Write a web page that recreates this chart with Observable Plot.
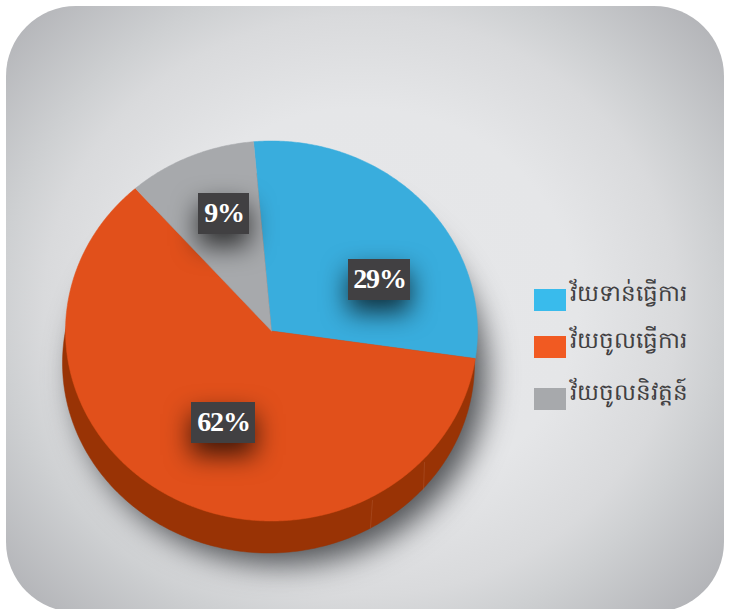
<!DOCTYPE html>
<html><head><meta charset="utf-8">
<script src="https://cdn.jsdelivr.net/npm/d3@7"></script>
<script src="https://cdn.jsdelivr.net/npm/@observablehq/plot@0.6"></script>
<style>
html,body{margin:0;padding:0;background:#fff;width:735px;height:609px;overflow:hidden}
#panel{position:absolute;left:6px;top:6px;width:718px;height:606px;border-radius:70px;
background:radial-gradient(ellipse 480px 440px at 355px 300px,#e6e7e9 0%,#e5e6e8 45%,#d9dadc 66%,#ced0d2 75%,#afb0b4 100%)}
#chart{position:absolute;left:0;top:0}
svg{background:transparent!important;display:block}
.pct text{letter-spacing:-1.2px}
</style></head><body>
<div id="panel"></div><div id="chart"></div>
<script>
const categories=["វ័យទាន់ធ្វើការ","វ័យចូលធ្វើការ","វ័យចូលនិវត្តន៍"];
const shares=[28.7,61.2,10.1];
const labels=["29%","62%","9%"];
const sliceColors=["#39addd","#e1501b","#a7a9ac"];
const legendColors=["#39bbec","#f15a22","#a7a9ac"];

const W=735,H=609,cx=271,cy=330.5,rx=206,ry=190;
const px=v=>(v-cx)/rx, py=v=>(cy-v)/ry;
const startDeg=-5;
const angle=d3.scaleLinear().domain([0,100]).range([startDeg,startDeg+360]);
const rad=d=>d*Math.PI/180;
let acc=0;
const slices=categories.flatMap((name,i)=>{
  const a=angle(acc),b=angle(acc+shares[i]);acc+=shares[i];
  const pts=[{name,color:sliceColors[i],u:0,v:0}];
  const n=Math.ceil((b-a)*2);
  for(let k=0;k<=n;k++){const t=rad(a+(b-a)*k/n);pts.push({name,color:sliceColors[i],u:Math.sin(t),v:Math.cos(t)});}
  pts.push({name,color:sliceColors[i],u:0,v:0});
  return pts;
});
const ring=(du,dv)=>d3.range(0,361).map(d=>({u:Math.sin(rad(d))+du,v:Math.cos(rad(d))+dv}));
const depth={u:-3/rx,v:-32/ry};
const sideRing=ring(depth.u,depth.v);
const shadowRing=ring(9/rx,-44/ry);
const seams=[[424,462,423,490],[372,500,370,527]].map(([a,b,c,d],i)=>[{i,u:px(a),v:py(b)},{i,u:px(c),v:py(d)}]).flat();
const labelBoxes=[[348,410,259,300],[191,255,402,443],[198,249,193,234]].map(([a,b,c,d],i)=>({
  label:labels[i],u1:px(a),u2:px(b),v1:py(c),v2:py(d),u:px((a+b)/2),v:py((c+d)/2-1)}));
const legendRows=categories.map((name,i)=>{const top=[289,336,388][i];return{
  name,color:legendColors[i],u1:px(534),u2:px(566),v1:py(top),v2:py(top+22),tu:px(569),tv:py(top+4)};});

const chart=Plot.plot({
  width:W,height:H,margin:0,
  x:{domain:[px(0),px(W)],range:[0,W],axis:null},
  y:{domain:[py(0),py(H)],range:[0,H],axis:null},
  style:{background:"transparent"},
  marks:[
    Plot.line(shadowRing,{x:"u",y:"v",fill:"#2c2e32",stroke:"none",fillOpacity:.8,imageFilter:"blur(15px)"}),
    Plot.line(sideRing,{x:"u",y:"v",fill:"#993305",stroke:"#993305",strokeWidth:.5}),
    Plot.line(seams,{x:"u",y:"v",z:"i",stroke:"#b5603a",strokeWidth:1,strokeOpacity:.4}),
    Plot.line(slices,{x:"u",y:"v",z:"name",fill:"color",stroke:"color",strokeWidth:.5,curve:"linear"}),
    Plot.rect(labelBoxes,{x1:"u1",x2:"u2",y1:"v1",y2:"v2",fill:"#414042",imageFilter:"drop-shadow(0 12px 13px rgba(0,0,0,.72))"}),
    Plot.text(labelBoxes,{x:"u",y:"v",text:"label",className:"pct",fill:"#fff",fontFamily:"Liberation Serif",fontWeight:"bold",fontSize:28}),
    Plot.rect(legendRows,{x1:"u1",x2:"u2",y1:"v1",y2:"v2",fill:"color"}),
    Plot.text(legendRows,{x:"tu",y:"tv",text:"name",textAnchor:"start",fill:"#414042",fontFamily:"Noto Sans, DejaVu Sans",fontSize:23})
  ]
});
document.getElementById("chart").append(chart);
</script></body></html>
